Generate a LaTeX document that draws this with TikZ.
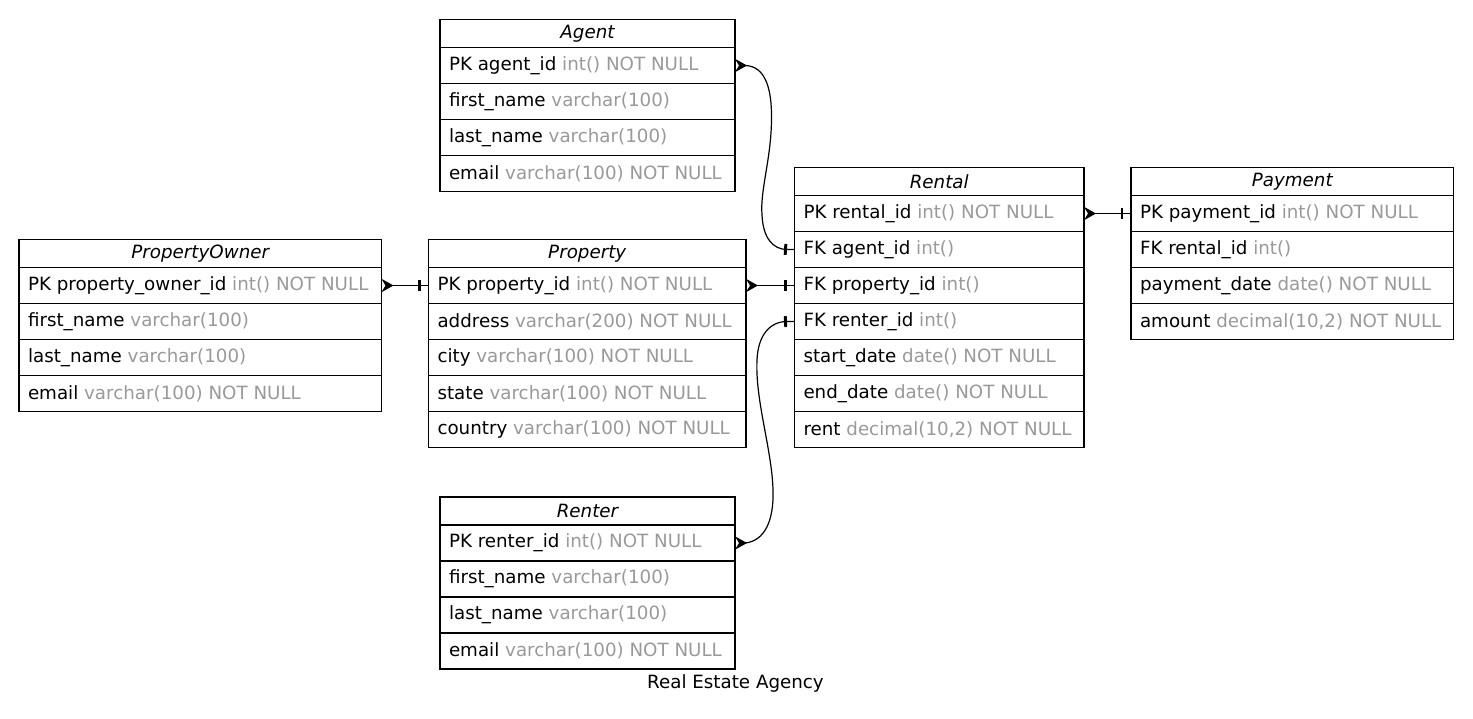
\documentclass[tikz,border=0pt]{standalone}
\usepackage{fontspec}
\setmainfont{DejaVu Sans}
\usetikzlibrary{arrows.meta,decorations.markings}
\definecolor{typegray}{HTML}{999999}
\tikzset{
  erhead/.style={draw, line width=0.9pt, outer sep=0pt, minimum height=21pt, inner sep=0pt,
    font=\fontsize{13.7}{16.4}\selectfont\itshape},
  errow/.style={draw, line width=0.9pt, outer sep=0pt, minimum height=27pt, inner xsep=6.75pt,
    inner ysep=0pt, font=\fontsize{13.7}{16.4}\selectfont},
  rel/.style={line width=0.9pt, {Stealth[reversed,length=9pt,width=10pt,inset=3pt]}-,
    postaction={decorate},
    decoration={markings, mark=at position -6.75pt with {\draw[-,line width=2.2pt] (0,-4.1pt) -- (0,4.1pt);}}}
}
\newcommand\ertable[6]{%
  \pgfmathsetmacro\ertw{(#4-18)*0.75}%
  \pgfmathsetmacro\erw{#4*0.75}%
  \node[erhead, minimum width=\erw pt, anchor=north west] (#1) at (#2,#3) {#5};
  \foreach \ek/\et [count=\ri] in {#6} {
    \node[errow, anchor=north west] (#1-\ri) at ({#2},{#3+28+(\ri-1)*36}) {\makebox[\ertw pt][l]{\ek\ \textcolor{typegray}{\et}}};
  }
}
\begin{document}
\begin{tikzpicture}[x=0.75pt, y=-0.75pt]
\useasboundingbox (0,0) rectangle (1473,718);
\ertable{agent}{440}{19.5}{295}{Agent}{PK agent\_id/int() NOT NULL,first\_name/varchar(100),last\_name/varchar(100),email/varchar(100) NOT NULL}
\ertable{po}{19}{239.5}{362.5}{PropertyOwner}{PK property\_owner\_id/int() NOT NULL,first\_name/varchar(100),last\_name/varchar(100),email/varchar(100) NOT NULL}
\ertable{property}{428.5}{239.5}{317.5}{Property}{PK property\_id/int() NOT NULL,address/varchar(200) NOT NULL,city/varchar(100) NOT NULL,state/varchar(100) NOT NULL,country/varchar(100) NOT NULL}
\ertable{rental}{794.5}{167.5}{289.5}{Rental}{PK rental\_id/int() NOT NULL,FK agent\_id/int(),FK property\_id/int(),FK renter\_id/int(),start\_date/date() NOT NULL,end\_date/date() NOT NULL,rent/{decimal(10,2) NOT NULL}}
\ertable{payment}{1131}{167.5}{322.5}{Payment}{PK payment\_id/int() NOT NULL,FK rental\_id/int(),payment\_date/date() NOT NULL,amount/{decimal(10,2) NOT NULL}}
\ertable{renter}{440}{497}{295}{Renter}{PK renter\_id/int() NOT NULL,first\_name/varchar(100),last\_name/varchar(100),email/varchar(100) NOT NULL}
\node[font=\fontsize{13.7}{16.4}\selectfont] (title) at (735.5,683) {Real Estate Agency};
\draw[rel] (agent-1.east) -- ++(10,0)
  .. controls (766,66) and (772,90) .. (771.5,120)
  .. controls (771,160) and (760,190) .. (762,215)
  .. controls (763,238) and (773,249.5) .. (787,249.5) -- (rental-2.west);
\draw[rel] (renter-1.east) -- ++(10,0)
  .. controls (765,541) and (774,520) .. (773,490)
  .. controls (772,450) and (755,400) .. (757,360)
  .. controls (758,335) and (770,321.5) .. (787,321.5) -- (rental-4.west);
\draw[rel] (property-1.east) -- (rental-3.west);
\draw[rel] (po-1.east) -- (property-1.west);
\draw[rel] (rental-1.east) -- (payment-1.west);
\end{tikzpicture}
\end{document}
